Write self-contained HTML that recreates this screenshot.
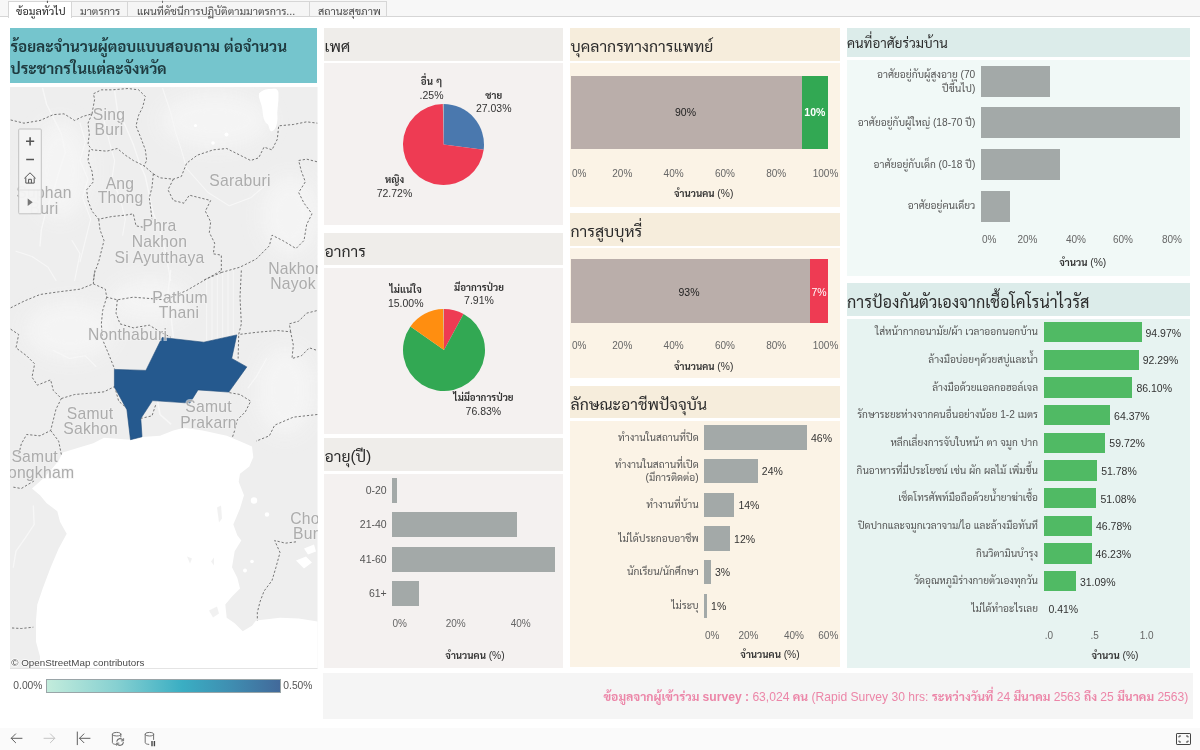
<!DOCTYPE html>
<html lang="th"><head><meta charset="utf-8"><title>ข้อมูลทั่วไป</title>
<style>
*{box-sizing:border-box;margin:0;padding:0}
html,body{width:1200px;height:750px;overflow:hidden;background:#fff}
body{font-family:"Liberation Sans","Sarabun","Loma","Noto Sans Thai",sans-serif;color:#333;position:relative;font-size:10.2px}
.abs{position:absolute}
.box{position:absolute}
.t{position:absolute;white-space:nowrap;line-height:1}
.r{text-align:right}
.c{text-align:center}
.title{position:absolute;white-space:nowrap;font-size:15.8px;color:#2b2b2b;line-height:1}
.ax{position:absolute;white-space:nowrap;font-size:10px;color:#666;line-height:1;transform:translate(-50%,-50%)}
.axl{position:absolute;white-space:nowrap;font-size:10px;color:#666;line-height:1;transform:translate(0,-50%)}
.axr{position:absolute;white-space:nowrap;font-size:10px;color:#666;line-height:1;transform:translate(-100%,-50%)}
.axt span{font-weight:400;font-size:10.3px}
.axt{position:absolute;white-space:nowrap;font-size:9.7px;font-weight:700;color:#333;line-height:1;transform:translate(-50%,-50%)}
.lab{position:absolute;white-space:nowrap;font-size:10.2px;color:#555;line-height:13.2px;transform:translate(-100%,-50%);text-align:right}
.val{position:absolute;white-space:nowrap;font-size:10.5px;color:#333;line-height:1;transform:translate(0,-50%)}
.pl{position:absolute;white-space:nowrap;font-size:10.5px;color:#333;line-height:13.8px;transform:translate(-50%,-50%);text-align:center}
.pl b{font-size:9.7px}
.bar{position:absolute}
.tab{position:absolute;top:1px;height:15px;border:1px solid #d6d6d6;border-bottom:none;font-size:10.8px;color:#4a4a4a;white-space:nowrap;line-height:18px;padding-left:7px;background:#f5f5f5}
</style></head><body>

<div class="box" style="left:0;top:0;width:1200px;height:17px;background:#f7f7f7;border-bottom:1px solid #d6d6d6"></div>
<div class="tab" style="left:8px;width:64px;background:#fff;color:#222;height:17px">ข้อมูลทั่วไป</div>
<div class="tab" style="left:71px;width:57px;padding-left:8px">มาตรการ</div>
<div class="tab" style="left:127px;width:183px;padding-left:9px">แผนที่ดัชนีการปฏิบัติตามมาตรการ...</div>
<div class="tab" style="left:309px;width:78px;padding-left:8px">สถานะสุขภาพ</div>
<div class="box" style="left:10px;top:28px;width:307px;height:55px;background:#75c5cd"></div>
<div class="t" style="left:10.5px;top:36px;font-size:15.2px;font-weight:700;color:#1f3b40;line-height:21.5px;white-space:normal;width:300px">ร้อยละจำนวนผู้ตอบแบบสอบถาม ต่อจำนวน<br>ประชากรในแต่ละจังหวัด</div>
<svg class="abs" style="left:10px;top:86.5px" width="307.5" height="582" viewBox="10 86.5 307.5 582">
<rect x="10" y="86.5" width="307.5" height="582" fill="#eeeeee"/>
<!-- sea -->
<path fill="#fff" d="M130.5 439.3L104 437.3L93.3 442.7L80 446.7L62.7 452L58.7 460L53.3 466.7L44 477.3L32 488L40 494.7L46.7 502.7L57.3 510.7L60 521.3L66.7 533.3L58.7 548L50.7 566.7L42.7 588L37.3 604L36 620L36 641.3L40 656L40 668.5L317.5 668.5L317.5 621L298.7 617.9L280 617.3L256 620L252 625.3L242.7 630.7L234.7 622.7L226.7 617.3L225.3 604L232 596L240 588L237.3 577.3L232 566.7L234.7 550.7L241.3 540L237.3 534.7L233.3 524L240 508L244 494.7L238.7 481.3L240 473.3L249.3 466L253.3 456.7L252 446L240 440.7L226.7 435.3L202.7 430L184 427.3L173.3 430L160 435.3L142 436.5Z"/>
<defs><filter id="bl" x="-30%" y="-30%" width="160%" height="160%"><feGaussianBlur stdDeviation="9"/></filter></defs>
<g filter="url(#bl)" fill="#f5f5f5" opacity="0.9">
<ellipse cx="215" cy="120" rx="55" ry="28"/><ellipse cx="290" cy="215" rx="30" ry="40"/><ellipse cx="70" cy="330" rx="45" ry="30"/><ellipse cx="150" cy="300" rx="40" ry="22"/><ellipse cx="285" cy="390" rx="30" ry="45"/><ellipse cx="60" cy="170" rx="30" ry="50"/>
</g>
<!-- lighter terrain / rivers -->
<g fill="none" stroke="#f7f7f7" stroke-width="1.2" stroke-linecap="round" stroke-linejoin="round">
<g transform="translate(0,80) scale(0.26667)">
<path d="M160 30L175 90L200 140L230 200L245 270L225 330L205 400L175 480L155 560L150 620" stroke-width="5"/><path d="M300 160L320 230L300 300L330 370L310 440L340 520L320 600L300 680" stroke-width="4"/><path d="M390 150L410 230L430 300L420 370L450 440L470 520L460 580" stroke-width="4"/>
<path d="M430 40L440 110L470 170L500 240L520 300L545 360L560 430L575 500L600 560L620 640L640 750" stroke-width="5"/>
<path d="M610 30L640 120L660 200L680 260L700 330" stroke-width="4"/>
<path d="M60 640L120 660L180 700L210 750" stroke-width="4"/>
<path d="M270 600L300 650L290 700L280 750" stroke-width="4"/>
<path d="M700 330L780 420L860 470L940 440L1010 380" stroke-width="4"/>
</g>
<g transform="translate(0,270) scale(0.26667)">
<path d="M640 0L630 80L640 160L650 250" stroke-width="5"/>
<path d="M775 30V260M795 20V262M815 12V258M835 5V255M855 0V250M875 0V246" stroke-width="3"/>
<path d="M200 300L260 330L320 320L360 360" stroke-width="4"/>
<path d="M1000 330L960 400L930 440" stroke-width="4"/>
<path d="M590 485L600 540L640 575" stroke-width="6"/>
</g>
<g transform="translate(0,460) scale(0.26667)">
<path d="M125 170L128 240L95 290L60 340L50 400" stroke-width="5"/>
</g>
</g>
<path fill="#fff" d="M259 93C262 89 268 88 272 88.5C276 87.5 279 89 278.5 94C279 102 276.5 110 277.5 118C277 124 276 129 272.5 130.5C269.5 132 269.5 127 268 124C264 122 263 116 262.5 110C262 103 258 98 259 93Z"/>
<circle cx="195.5" cy="125" r="1.6" fill="#fff"/><circle cx="226.5" cy="134" r="2" fill="#fff"/><circle cx="213" cy="142.5" r="1.8" fill="#fff"/>
<circle cx="254" cy="500" r="3.2" fill="#fff"/><circle cx="267" cy="514" r="2.2" fill="#fff"/><circle cx="252" cy="561" r="1.8" fill="#fff"/><circle cx="245" cy="570" r="2" fill="#fff"/>
<path fill="#fff" d="M296 560L306 556L312 562L304 568ZM304 548L314 544L316 551L308 554Z"/>
<path fill="#eeeeee" d="M217 507L221 505L222 518L219 522ZM209 610L217 606L219 613L213 617ZM187 556L192 558L190 563ZM211 561L214 557L214 565Z" opacity="0.8"/>
<!-- borders -->
<g fill="none" stroke="#707070" stroke-width="0.9" stroke-dasharray="2 2">
<g transform="translate(0,80) scale(0.26667)" stroke-width="3.6" stroke-dasharray="8.5 7">
<path d="M40 148L90 160L150 150L200 128L240 125L280 150L310 135L345 125"/>
<path d="M345 125L355 70L350 50L380 35L420 35L480 30L520 35L545 60L535 100L520 130L510 170L530 220L545 260L550 300L540 320"/>
<path d="M345 125L330 160L335 200L330 240L345 260L400 265L440 255L470 280L500 300L540 320L575 350"/>
<path d="M335 260L330 300L345 340L350 380L325 410L330 450L345 490L370 520L420 510L470 505L500 500L510 545L535 550"/>
<path d="M370 520L375 560L390 600L380 640L370 680L355 720L350 750"/>
<path d="M575 350L570 400L560 440L565 480L570 520"/>
<path d="M575 350L600 365L650 370L680 360L700 310L740 280L800 260L850 255L900 280L940 300L970 290L990 250L1020 260L1040 220L1045 170L1100 165L1150 155L1190 160"/>
<path d="M650 370L630 410L650 450L690 460L710 430L750 440L790 450L770 490L790 530L785 570L805 610L800 650L830 655L830 720L760 750"/>
<path d="M830 720L900 700L960 670L1010 620L1020 580L1060 600L1110 630L1140 600L1150 540L1170 500L1140 460L1120 420L1145 380L1130 340L1120 300L1150 295L1190 305"/>
</g>
<g transform="translate(0,270) scale(0.26667)" stroke-width="3.6" stroke-dasharray="8.5 7">
<path d="M40 140L90 115L150 90L220 80L300 70L350 50L355 0"/>
<path d="M350 50L395 70L400 100L440 110L500 100L560 105L620 110L700 75L760 40L830 0"/>
<path d="M400 100L385 150L380 200L385 260L410 320L430 370"/>
<path d="M440 110L435 160L450 200L500 215L560 205L600 230L640 250"/>
<path d="M905 0L900 100L905 200L895 240L960 232L1040 225L1090 230L1100 280L1095 330L1130 320L1160 290L1190 300"/>
<path d="M1090 230L1085 200L1120 190L1150 160L1190 150"/>
<path d="M895 245L893 330"/>
<path d="M40 220L70 240L60 290L100 320L130 350L120 400L140 430L190 410L200 450L230 480L210 520L200 560L190 600L150 620L100 615L80 650L70 690"/>
<path d="M230 480L280 465L340 460L390 455L430 435"/>
<path d="M190 600L220 640L230 690"/>
<path d="M860 458L900 465L940 490L920 530L890 560L880 600L870 630"/>
<path d="M1190 540L1100 550L1030 580L1010 620L960 640"/>
<path d="M430 435L445 490L480 520M527 555L570 545L585 500"/>
</g>
<g transform="translate(0,460) scale(0.26667)" stroke-width="3.6" stroke-dasharray="8.5 7">
<path d="M1110 305L1070 310L1030 300L1050 345L1035 400L1020 450L990 490L975 530L965 570L965 600"/>
<path d="M50 100L80 105L130 75M45 628L80 630L125 625"/>
</g>
</g>
<!-- Bangkok -->
<path fill="#25598e" stroke="#1f4b7b" stroke-width="0.6" stroke-linejoin="round" d="M114.4 368.9L145.9 369.9L162.1 337L203.8 341.7L236.8 334.4L231.7 357.9L246.8 366.4L228.8 391.6L198 389.4L189.9 402.6L152.5 400.1L140.8 418L142 436.3L130.5 439.2L126.9 409.2L114.4 386.5Z"/>
<!-- labels -->
<g font-family='"Liberation Sans",sans-serif' font-size="15.7" fill="#acacac" text-anchor="middle" letter-spacing="0.25" stroke="#f2f2f2" stroke-width="2" stroke-opacity="0.6" paint-order="stroke">
<text x="109" y="119.5">Sing</text><text x="109" y="134.5">Buri</text>
<text x="120" y="188.3">Ang</text><text x="120.5" y="202.8">Thong</text>
<text x="240" y="185.7">Saraburi</text>
<text x="44" y="197.7">Suphan</text><text x="44" y="213.2">Buri</text>
<text x="159.5" y="230.7">Phra</text><text x="159.5" y="246.5">Nakhon</text><text x="159.5" y="262">Si Ayutthaya</text>
<text x="296" y="273.2">Nakhon</text><text x="293" y="288.5">Nayok</text>
<text x="180" y="302.3">Pathum</text><text x="179" y="317.7">Thani</text>
<text x="127.5" y="339.7">Nonthaburi</text>
<text x="90" y="418.3">Samut</text><text x="90.7" y="433.7">Sakhon</text>
<text x="208.5" y="411.6">Samut</text><text x="208.5" y="427.3">Prakarn</text>
<text x="34.7" y="461.5">Samut</text><text x="35.7" y="477.5">Songkham</text>
<text x="309.5" y="523.7">Chon</text><text x="307.5" y="538.2">Buri</text>
</g>
<!-- controls -->
<g>
<rect x="18.7" y="128.5" width="22.6" height="84.8" rx="1" fill="#f4f4f4" fill-opacity="0.96" stroke="#c2c2c2" stroke-width="1"/>
<path d="M26 140.8H34.2M30.1 136.7V144.9M26.2 159H34" stroke="#555" stroke-width="1.6" fill="none"/>
<path d="M24.4 177.8L30 172.3L35.6 177.8M25.8 177V182.6H34.2V177M28.6 182.6V178.8H31.4V182.6" stroke="#555" stroke-width="1" fill="none" stroke-linejoin="round"/>
<path d="M19.5 189.5H40.5" stroke="#dcdcdc" stroke-width="0.8" fill="none"/>
<path d="M27.7 198L32.7 201.7L27.7 205.4Z" fill="#777"/>
</g>
<text x="11.3" y="665" font-family='"Liberation Sans",sans-serif' font-size="9.8" fill="#4a4a4a" stroke="#fff" stroke-width="2" stroke-opacity="0.7" paint-order="stroke">© OpenStreetMap contributors</text>
<path d="M317.5 668.2H10" fill="none" stroke="#dedede" stroke-width="1"/>
</svg>

<div class="t" style="left:13.3px;top:680.7px;font-size:10.3px;color:#555">0.00%</div>
<div class="box" style="left:46px;top:679px;width:235px;height:14px;border:1px solid #9aa5a8;background:linear-gradient(90deg,#c3ecdc 0%,#86d0d1 30%,#3aaec3 58%,#3f8cb0 80%,#42699a 100%)"></div>
<div class="t" style="left:283.3px;top:680.7px;font-size:10.3px;color:#555">0.50%</div>
<div class="box" style="left:323.5px;top:28px;width:239.5px;height:33px;background:#efedea"></div>
<div class="box" style="left:323.5px;top:63px;width:239.5px;height:162px;background:#f4f1f0"></div>
<div class="box" style="left:323.5px;top:233px;width:239.5px;height:32px;background:#efedea"></div>
<div class="box" style="left:323.5px;top:267.5px;width:239.5px;height:166.5px;background:#f4f1f0"></div>
<div class="box" style="left:323.5px;top:438px;width:239.5px;height:33px;background:#efedea"></div>
<div class="box" style="left:323.5px;top:473.5px;width:239.5px;height:194px;background:#f4f1f0"></div>
<div class="title" style="left:324.5px;top:39px">เพศ</div>
<div class="title" style="left:324.5px;top:244px">อาการ</div>
<div class="title" style="left:324.5px;top:449px">อายุ(ปี)</div>
<svg class="abs" style="left:401.0px;top:102.0px" width="85.0" height="85.0" viewBox="-42.5 -42.5 85.0 85.0"><path d="M0 0L0.00 -40.50A40.5 40.5 0 0 1 40.17 5.15Z" fill="#4a78ae"/><path d="M0 0L40.17 5.15A40.5 40.5 0 1 1 -0.64 -40.50Z" fill="#ee3b53"/><path d="M0 0L-0.64 -40.50A40.5 40.5 0 0 1 -0.00 -40.50Z" fill="#b8b0ac"/></svg>
<svg class="abs" style="left:400.5px;top:306.5px" width="86" height="86" viewBox="-43 -43 86 86"><path d="M0 0L0.00 -41.00A41 41 0 0 1 19.55 -36.04Z" fill="#ee3b53"/><path d="M0 0L19.55 -36.04A41 41 0 1 1 -33.56 -23.55Z" fill="#32a853"/><path d="M0 0L-33.56 -23.55A41 41 0 0 1 -0.67 -40.99Z" fill="#ff8e10"/><path d="M0 0L-0.67 -40.99A41 41 0 0 1 -0.00 -41.00Z" fill="#b8b0ac"/></svg>
<div class="pl" style="left:431.5px;top:89px"><b>อื่น ๆ</b><br>.25%</div>
<div class="pl" style="left:493.7px;top:102.5px"><b>ชาย</b><br>27.03%</div>
<div class="pl" style="left:394.5px;top:187px"><b>หญิง</b><br>72.72%</div>
<div class="pl" style="left:405.7px;top:297px"><b>ไม่แน่ใจ</b><br>15.00%</div>
<div class="pl" style="left:479px;top:294.7px"><b>มีอาการป่วย</b><br>7.91%</div>
<div class="pl" style="left:483.4px;top:405.3px"><b>ไม่มีอาการป่วย</b><br>76.83%</div>
<div class="bar" style="left:392px;top:477.7px;width:5px;height:25px;background:#a3a9a8"></div>
<div class="lab" style="left:386.7px;top:490.5px;font-size:10.5px">0-20</div>
<div class="bar" style="left:392px;top:512.2px;width:124.7px;height:25px;background:#a3a9a8"></div>
<div class="lab" style="left:386.7px;top:525.0px;font-size:10.5px">21-40</div>
<div class="bar" style="left:392px;top:546.7px;width:163px;height:25px;background:#a3a9a8"></div>
<div class="lab" style="left:386.7px;top:559.5px;font-size:10.5px">41-60</div>
<div class="bar" style="left:392px;top:581.2px;width:27px;height:25px;background:#a3a9a8"></div>
<div class="lab" style="left:386.7px;top:594.0px;font-size:10.5px">61+</div>
<div class="axl" style="left:392.5px;top:624px">0%</div>
<div class="ax" style="left:455.7px;top:624px">20%</div>
<div class="ax" style="left:520.7px;top:624px">40%</div>
<div class="axt" style="left:475px;top:655.5px">จำนวนคน <span>(%)</span></div>
<div class="box" style="left:570px;top:28px;width:270px;height:33px;background:#f6eddc"></div>
<div class="box" style="left:570px;top:63px;width:270px;height:143.7px;background:#fbf3e6"></div>
<div class="box" style="left:570px;top:213px;width:270px;height:32.5px;background:#f6eddc"></div>
<div class="box" style="left:570px;top:248px;width:270px;height:130.3px;background:#fbf3e6"></div>
<div class="box" style="left:570px;top:386.3px;width:270px;height:31.4px;background:#f6eddc"></div>
<div class="box" style="left:570px;top:421.3px;width:270px;height:246.2px;background:#fbf3e6"></div>
<div class="title" style="left:570.5px;top:39px">บุคลากรทางการแพทย์</div>
<div class="title" style="left:570.5px;top:224px">การสูบบุหรี่</div>
<div class="title" style="left:570.5px;top:396.5px">ลักษณะอาชีพปัจจุบัน</div>
<div class="bar" style="left:571px;top:76px;width:231px;height:72.8px;background:#baaeaa"></div>
<div class="bar" style="left:802px;top:76px;width:25.7px;height:72.8px;background:#32a853"></div>
<div class="ax" style="left:685.5px;top:111.7px;color:#222;font-size:10.5px">90%</div>
<div class="ax" style="left:814.8px;top:111.7px;color:#fff;font-size:10.5px;font-weight:700">10%</div>
<div class="bar" style="left:571px;top:259px;width:239px;height:63.5px;background:#baaeaa"></div>
<div class="bar" style="left:810px;top:259px;width:17.7px;height:63.5px;background:#ee3b53"></div>
<div class="ax" style="left:689px;top:291.5px;color:#222;font-size:10.5px">93%</div>
<div class="ax" style="left:819px;top:291.5px;color:#fff;font-size:10.5px">7%</div>
<div class="axl" style="left:572px;top:174px">0%</div>
<div class="ax" style="left:622.3px;top:174px">20%</div>
<div class="ax" style="left:673.6px;top:174px">40%</div>
<div class="ax" style="left:724.9px;top:174px">60%</div>
<div class="ax" style="left:776.2px;top:174px">80%</div>
<div class="axr" style="left:838.3px;top:174px">100%</div>
<div class="axt" style="left:703.7px;top:194px">จำนวนคน <span>(%)</span></div>
<div class="axl" style="left:572px;top:346.3px">0%</div>
<div class="ax" style="left:622.3px;top:346.3px">20%</div>
<div class="ax" style="left:673.6px;top:346.3px">40%</div>
<div class="ax" style="left:724.9px;top:346.3px">60%</div>
<div class="ax" style="left:776.2px;top:346.3px">80%</div>
<div class="axr" style="left:838.3px;top:346.3px">100%</div>
<div class="axt" style="left:703.7px;top:366.7px">จำนวนคน <span>(%)</span></div>
<div class="bar" style="left:704.2px;top:425.3px;width:102.8px;height:24.5px;background:#a3a9a8"></div>
<div class="lab" style="left:698.7px;top:437.6px">ทำงานในสถานที่ปิด</div>
<div class="val" style="left:811.0px;top:437.8px">46%</div>
<div class="bar" style="left:704.2px;top:458.9px;width:53.6px;height:24.5px;background:#a3a9a8"></div>
<div class="lab" style="left:698.7px;top:471.2px">ทำงานในสถานที่เปิด<br>(มีการติดต่อ)</div>
<div class="val" style="left:761.8px;top:471.4px">24%</div>
<div class="bar" style="left:704.2px;top:492.6px;width:30.2px;height:24.5px;background:#a3a9a8"></div>
<div class="lab" style="left:698.7px;top:504.9px">ทำงานที่บ้าน</div>
<div class="val" style="left:738.4px;top:505.1px">14%</div>
<div class="bar" style="left:704.2px;top:526.2px;width:25.9px;height:24.5px;background:#a3a9a8"></div>
<div class="lab" style="left:698.7px;top:538.5px">ไม่ได้ประกอบอาชีพ</div>
<div class="val" style="left:734.1px;top:538.8px">12%</div>
<div class="bar" style="left:704.2px;top:559.9px;width:6.7px;height:24.5px;background:#a3a9a8"></div>
<div class="lab" style="left:698.7px;top:572.2px">นักเรียน/นักศึกษา</div>
<div class="val" style="left:714.9px;top:572.4px">3%</div>
<div class="bar" style="left:704.2px;top:593.5px;width:2.9px;height:24.5px;background:#a3a9a8"></div>
<div class="lab" style="left:698.7px;top:605.8px">ไม่ระบุ</div>
<div class="val" style="left:711.1px;top:606.0px">1%</div>
<div class="axl" style="left:705px;top:636px">0%</div>
<div class="ax" style="left:748.5px;top:636px">20%</div>
<div class="ax" style="left:794px;top:636px">40%</div>
<div class="axr" style="left:838.3px;top:636px">60%</div>
<div class="axt" style="left:770px;top:655.3px">จำนวนคน <span>(%)</span></div>
<div class="box" style="left:847px;top:28px;width:343px;height:29px;background:#dcecea"></div>
<div class="box" style="left:847px;top:60px;width:343px;height:216px;background:#f1f9f7"></div>
<div class="box" style="left:847px;top:283px;width:343px;height:33px;background:#dcecea"></div>
<div class="box" style="left:847px;top:318.5px;width:343px;height:349.5px;background:#e7f3f1"></div>
<div class="title" style="left:847px;top:37px;font-size:13.4px">คนที่อาศัยร่วมบ้าน</div>
<div class="title" style="left:847px;top:294px;font-size:16.2px">การป้องกันตัวเองจากเชื้อโคโรน่าไวรัส</div>
<div class="bar" style="left:981.2px;top:65.8px;width:69px;height:31px;background:#a3a9a8"></div>
<div class="lab" style="left:975.3px;top:81.3px">อาศัยอยู่กับผู้สูงอายุ (70<br>ปีขึ้นไป)</div>
<div class="bar" style="left:981.2px;top:107.4px;width:199.1px;height:31px;background:#a3a9a8"></div>
<div class="lab" style="left:975.3px;top:122.9px">อาศัยอยู่กับผู้ใหญ่ (18-70 ปี)</div>
<div class="bar" style="left:981.2px;top:149.1px;width:79.1px;height:31px;background:#a3a9a8"></div>
<div class="lab" style="left:975.3px;top:164.6px">อาศัยอยู่กับเด็ก (0-18 ปี)</div>
<div class="bar" style="left:981.2px;top:190.8px;width:29.1px;height:31px;background:#a3a9a8"></div>
<div class="lab" style="left:975.3px;top:206.2px">อาศัยอยู่คนเดียว</div>
<div class="axl" style="left:982px;top:239.6px">0%</div>
<div class="ax" style="left:1027.5px;top:239.6px">20%</div>
<div class="ax" style="left:1076px;top:239.6px">40%</div>
<div class="ax" style="left:1123px;top:239.6px">60%</div>
<div class="ax" style="left:1172px;top:239.6px">80%</div>
<div class="axt" style="left:1082.8px;top:263.3px">จำนวน <span>(%)</span></div>
<div class="bar" style="left:1044px;top:322.0px;width:97.5px;height:20.3px;background:#50ba64"></div>
<div class="lab" style="left:1038px;top:332.3px;font-size:10.1px">ใส่หน้ากากอนามัย/ผ้า เวลาออกนอกบ้าน</div>
<div class="val" style="left:1145.5px;top:332.6px">94.97%</div>
<div class="bar" style="left:1044px;top:349.7px;width:94.7px;height:20.3px;background:#50ba64"></div>
<div class="lab" style="left:1038px;top:360.0px;font-size:10.1px">ล้างมือบ่อยๆด้วยสบู่และน้ำ</div>
<div class="val" style="left:1142.7px;top:360.3px">92.29%</div>
<div class="bar" style="left:1044px;top:377.3px;width:88.4px;height:20.3px;background:#50ba64"></div>
<div class="lab" style="left:1038px;top:387.6px;font-size:10.1px">ล้างมือด้วยแอลกอฮอล์เจล</div>
<div class="val" style="left:1136.4px;top:387.9px">86.10%</div>
<div class="bar" style="left:1044px;top:405.0px;width:66.1px;height:20.3px;background:#50ba64"></div>
<div class="lab" style="left:1038px;top:415.3px;font-size:10.1px">รักษาระยะห่างจากคนอื่นอย่างน้อย 1-2 เมตร</div>
<div class="val" style="left:1114.1px;top:415.6px">64.37%</div>
<div class="bar" style="left:1044px;top:432.7px;width:61.3px;height:20.3px;background:#50ba64"></div>
<div class="lab" style="left:1038px;top:443.0px;font-size:10.1px">หลีกเลี่ยงการจับใบหน้า ตา จมูก ปาก</div>
<div class="val" style="left:1109.3px;top:443.3px">59.72%</div>
<div class="bar" style="left:1044px;top:460.4px;width:53.2px;height:20.3px;background:#50ba64"></div>
<div class="lab" style="left:1038px;top:470.7px;font-size:10.1px">กินอาหารที่มีประโยชน์ เช่น ผัก ผลไม้ เพิ่มขึ้น</div>
<div class="val" style="left:1101.2px;top:471.0px">51.78%</div>
<div class="bar" style="left:1044px;top:488.0px;width:52.4px;height:20.3px;background:#50ba64"></div>
<div class="lab" style="left:1038px;top:498.3px;font-size:10.1px">เช็ดโทรศัพท์มือถือด้วยน้ำยาฆ่าเชื้อ</div>
<div class="val" style="left:1100.4px;top:498.6px">51.08%</div>
<div class="bar" style="left:1044px;top:515.7px;width:48.0px;height:20.3px;background:#50ba64"></div>
<div class="lab" style="left:1038px;top:526.0px;font-size:10.1px">ปิดปากและจมูกเวลาจาม/ไอ และล้างมือทันที</div>
<div class="val" style="left:1096.0px;top:526.3px">46.78%</div>
<div class="bar" style="left:1044px;top:543.4px;width:47.5px;height:20.3px;background:#50ba64"></div>
<div class="lab" style="left:1038px;top:553.7px;font-size:10.1px">กินวิตามินบำรุง</div>
<div class="val" style="left:1095.5px;top:554.0px">46.23%</div>
<div class="bar" style="left:1044px;top:571.0px;width:31.9px;height:20.3px;background:#50ba64"></div>
<div class="lab" style="left:1038px;top:581.3px;font-size:10.1px">วัดอุณหภูมิร่างกายตัวเองทุกวัน</div>
<div class="val" style="left:1079.9px;top:581.6px">31.09%</div>
<div class="lab" style="left:1038px;top:609.0px;font-size:10.1px">ไม่ได้ทำอะไรเลย</div>
<div class="val" style="left:1048.4px;top:609.3px">0.41%</div>
<div class="ax" style="left:1048.8px;top:636px">.0</div>
<div class="ax" style="left:1094.7px;top:636px">.5</div>
<div class="ax" style="left:1146.7px;top:636px">1.0</div>
<div class="axt" style="left:1115px;top:656px">จำนวน <span>(%)</span></div>
<div class="box" style="left:322.5px;top:672.5px;width:870.5px;height:46px;background:#f5f5f5"></div>
<div class="t r" style="right:11.7px;top:691px;font-size:12.1px;color:#ec86a8"><b>ข้อมูลจากผู้เข้าร่วม survey :</b> 63,024 <b>คน</b> (Rapid Survey 30 hrs: <b>ระหว่างวันที่</b> 24 <b>มีนาคม</b> 2563 <b>ถึง</b> 25 <b>มีนาคม</b> 2563)</div>
<div class="box" style="left:0;top:727.5px;width:1200px;height:22.5px;background:#fafafa"></div>
<svg class="abs" style="left:0;top:727px" width="1200" height="23" viewBox="0 727 1200 23" fill="none" stroke="#5e5e5e" stroke-width="1" stroke-linecap="round" stroke-linejoin="round">
<path d="M22 738.3H11.3M15.6 733.9L11.2 738.3L15.6 742.7"/>
<path d="M44 738.3H54.7M50.4 733.9L54.8 738.3L50.4 742.7" stroke="#c4c4c4"/>
<path d="M77.3 732V744.7M90 738.3H79.6M83.9 733.9L79.5 738.3L83.9 742.7"/>
<g stroke="#707070"><ellipse cx="116.6" cy="734.2" rx="4.2" ry="1.8"/><path d="M112.4 734.2V742.6C112.4 743.6 114 744.3 115.5 744.4M120.8 734.2V737"/>
<path d="M116.9 741.2A3.3 3.3 0 0 1 122.9 740.2M123.3 742.6A3.3 3.3 0 0 1 117.3 743.8" stroke-width="1.2"/><path d="M123.6 738.6V740.9H121.3M116.6 745.3V743.1H118.9" stroke-width="0.9"/></g>
<g stroke="#707070"><ellipse cx="149.4" cy="734.2" rx="4.2" ry="1.8"/><path d="M145.2 734.2V742.6C145.2 743.6 146.8 744.3 148.8 744.4M153.6 734.2V739.5"/></g>
<path d="M152 741V746.3M154.4 741V746.3" stroke="#444" stroke-width="1.4" stroke-linecap="butt"/>
<g stroke="#444" stroke-width="1" stroke-linecap="butt" stroke-linejoin="miter"><rect x="1176.5" y="733.5" width="14" height="11" rx="0.6"/><path d="M1179 737.5V736H1181M1186 736H1188V737.5M1188 740.5V742H1186M1181 742H1179V740.5"/></g>
</svg>
</body></html>
